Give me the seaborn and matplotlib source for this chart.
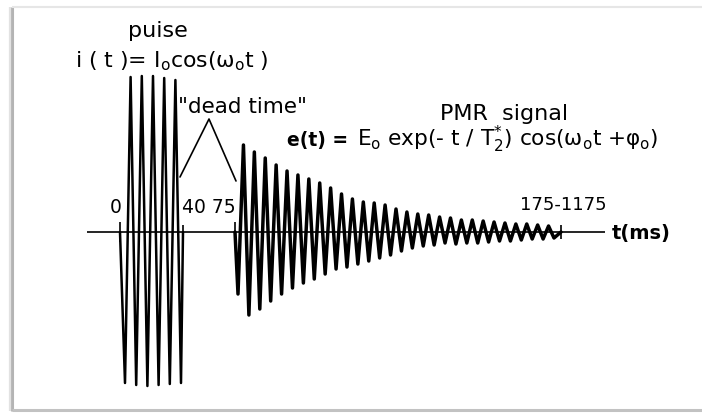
import matplotlib
matplotlib.use("Agg")
import matplotlib.pyplot as plt
import seaborn as sns
import numpy as np
import pandas as pd

# ---------------- data (amplitudes in arbitrary units) ----
# RF pulse i(t): alternating lower / upper peak amplitudes
pulse_lower = [-151, -153, -154, -153, -152, -151]
pulse_upper = [155, 156, 156, 154, 152]

# PMR free-induction decay e(t): alternating lower / upper peak amplitudes
decay_lower = [-62, -83, -77, -69, -62, -56, -51, -47, -42, -37,
               -35, -32, -29, -26, -23, -19, -16, -14, -13, -11,
               -12, -11, -11, -10, -9, -9, -8, -7, -7, -6]
decay_upper = [87, 80, 74, 67, 61, 57, 53, 49, 44, 38,
               33, 30, 29, 27, 23, 20, 18, 17, 15,
               14, 12, 12, 11, 10, 9, 8, 8, 7, 6]

time_labels = ["0", "40 75", "175-1175"]
axis_label = "t(ms)"

# ---------------- layout (pixel-like schematic coordinates) -------------------
W, H = 702, 414
Y0 = 233                       # vertical position of the time axis (px from top)
PULSE_START, PULSE_END = 120, 183
PULSE_FIRST, PULSE_LAST = 125, 181
DECAY_START, DECAY_END = 235, 561
DECAY_FIRST, DECAY_LAST = 238, 554


def py(v):
    """pixel row -> data y"""
    return Y0 - v


def interleave(lower, upper):
    out = []
    for i in range(len(lower) + len(upper)):
        out.append(lower[i // 2] if i % 2 == 0 else upper[i // 2])
    return out


def wave_frame(peaks, start, first, last, end):
    n = len(peaks)
    xs = [start] + list(np.linspace(first, last, n)) + [end]
    ys = [0] + list(peaks) + [0]
    return pd.DataFrame({"x": xs, "y": ys})


pulse_df = wave_frame(interleave(pulse_lower, pulse_upper),
                      PULSE_START, PULSE_FIRST, PULSE_LAST, PULSE_END)
decay_df = wave_frame(interleave(decay_lower, decay_upper),
                      DECAY_START, DECAY_FIRST, DECAY_LAST, DECAY_END)

# ---------------- style --------------------------------------------------------
sns.set_style("white")
plt.rcParams["font.family"] = ["DejaVu Sans"]
plt.rcParams["mathtext.fontset"] = "dejavusans"
plt.rcParams["text.color"] = "black"

fig = plt.figure(figsize=(W / 100, H / 100), dpi=100)
fig.patch.set_facecolor("white")
ax = fig.add_axes([0, 0, 1, 1])

# frame of the scanned figure
ax.plot([12, 12], [py(8), py(412)], color="#b4b4b4", lw=2.2, solid_capstyle="butt")
ax.plot([9.5, 9.5], [py(8), py(412)], color="#e2e2e2", lw=1.6, solid_capstyle="butt")
ax.plot([12, W], [py(8), py(8)], color="#e6e6e6", lw=1.5, solid_capstyle="butt")
ax.plot([12, W], [py(411), py(411)], color="#c2c2c2", lw=2.2, solid_capstyle="butt")

# time axis
ax.hlines(0, 87, 605, color="black", lw=1.2)

# waveforms
sns.lineplot(data=pulse_df, x="x", y="y", sort=False, estimator=None,
             color="black", lw=1.8, ax=ax)
sns.lineplot(data=decay_df, x="x", y="y", sort=False, estimator=None,
             color="black", lw=2.5, ax=ax)
ax.set_xlim(0, W)
ax.set_ylim(py(H), py(0))
ax.axis("off")

# small edge ticks
for xt, top, bot in [(120, 223, 243), (183, 226, 243), (235, 223, 242), (561, 226, 240)]:
    ax.vlines(xt, py(bot), py(top), color="black", lw=1.2)

# "dead time" bracket
ax.plot([180, 209, 236], [py(178), py(120), py(182)], color="black", lw=1.2)

# ---------------- texts --------------------------------------------------------
ax.text(158, py(37), "puise", ha="center", va="baseline", fontsize=16)
ax.text(75, py(67), r"i ( t )= I$_\mathregular{o}$cos(ω$_\mathregular{o}$t )",
        ha="left", va="baseline", fontsize=15.8)
ax.text(178, py(113), '"dead time"', ha="left", va="baseline", fontsize=15.5)
ax.text(440, py(120), "PMR  signal", ha="left", va="baseline", fontsize=16)
ax.text(287, py(146), "e(t) =", ha="left", va="baseline", fontsize=13.5,
        fontweight="bold")
ax.text(357, py(146),
        r"E$_\mathregular{o}$ exp(- t / T$_\mathregular{2}^\mathregular{*}$) "
        r"cos(ω$_\mathregular{o}$t +φ$_\mathregular{o}$)",
        ha="left", va="baseline", fontsize=15.6)
ax.text(116, py(213), time_labels[0], ha="center", va="baseline", fontsize=13.5)
ax.text(182, py(213), time_labels[1], ha="left", va="baseline", fontsize=13.5)
ax.text(520, py(210), time_labels[2], ha="left", va="baseline", fontsize=13)
ax.text(612, py(239), axis_label, ha="left", va="baseline", fontsize=14,
        fontweight="bold")

fig.savefig("out.png", dpi=100, facecolor="white")
